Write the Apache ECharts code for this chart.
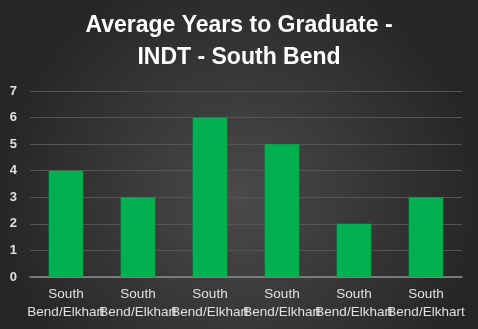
<!DOCTYPE html>
<html>
<head>
<meta charset="utf-8">
<script src="https://cdn.jsdelivr.net/npm/echarts@6/dist/echarts.min.js"></script>
<style>
html,body{margin:0;padding:0;background:#2a2a2a;}
#chart{width:478px;height:329px;}
</style>
</head>
<body>
<div id="chart"></div>
<script>
const titleText = "Average Years to Graduate -\nINDT - South Bend";
const categories = ["South\nBend/Elkhart","South\nBend/Elkhart","South\nBend/Elkhart","South\nBend/Elkhart","South\nBend/Elkhart","South\nBend/Elkhart"];
const values = [4, 3, 6, 5, 2, 3];
const yTicks = {min: 0, max: 7, interval: 1};

const chart = echarts.init(document.getElementById('chart'), null, {renderer: 'canvas'});
chart.setOption({
  animation: false,
  backgroundColor: {
    type: 'radial', x: 0.5, y: 0.6, r: 0.75,
    colorStops: [{offset: 0, color: '#4a4a4a'}, {offset: 1, color: '#252525'}]
  },
  title: {
    text: titleText,
    left: 'center', top: 5,
    textStyle: {color: '#ffffff', fontSize: 23, fontWeight: 'bold', fontFamily: 'Liberation Sans, Arial, sans-serif', lineHeight: 32}
  },
  grid: {left: 30, right: 16, top: 91, bottom: 52, containLabel: false},
  xAxis: {
    type: 'category', data: categories,
    axisLine: {show: true, lineStyle: {color: '#8c8c8c', width: 1.5}},
    axisTick: {show: false},
    axisLabel: {
      interval: 0, color: '#e0e0e0', fontSize: 13.5, lineHeight: 18, margin: 8,
      fontFamily: 'Liberation Sans, Arial, sans-serif'
    }
  },
  yAxis: {
    type: 'value', min: yTicks.min, max: yTicks.max, interval: yTicks.interval,
    axisLine: {show: false}, axisTick: {show: false},
    splitLine: {lineStyle: {color: '#555555', width: 1}},
    axisLabel: {color: '#e0e0e0', fontSize: 13, fontWeight: 'bold', margin: 13, fontFamily: 'Liberation Sans, Arial, sans-serif'}
  },
  series: [{
    type: 'bar', data: values, barWidth: '48%',
    itemStyle: {color: '#00b050'}
  }]
});
</script>
</body>
</html>
